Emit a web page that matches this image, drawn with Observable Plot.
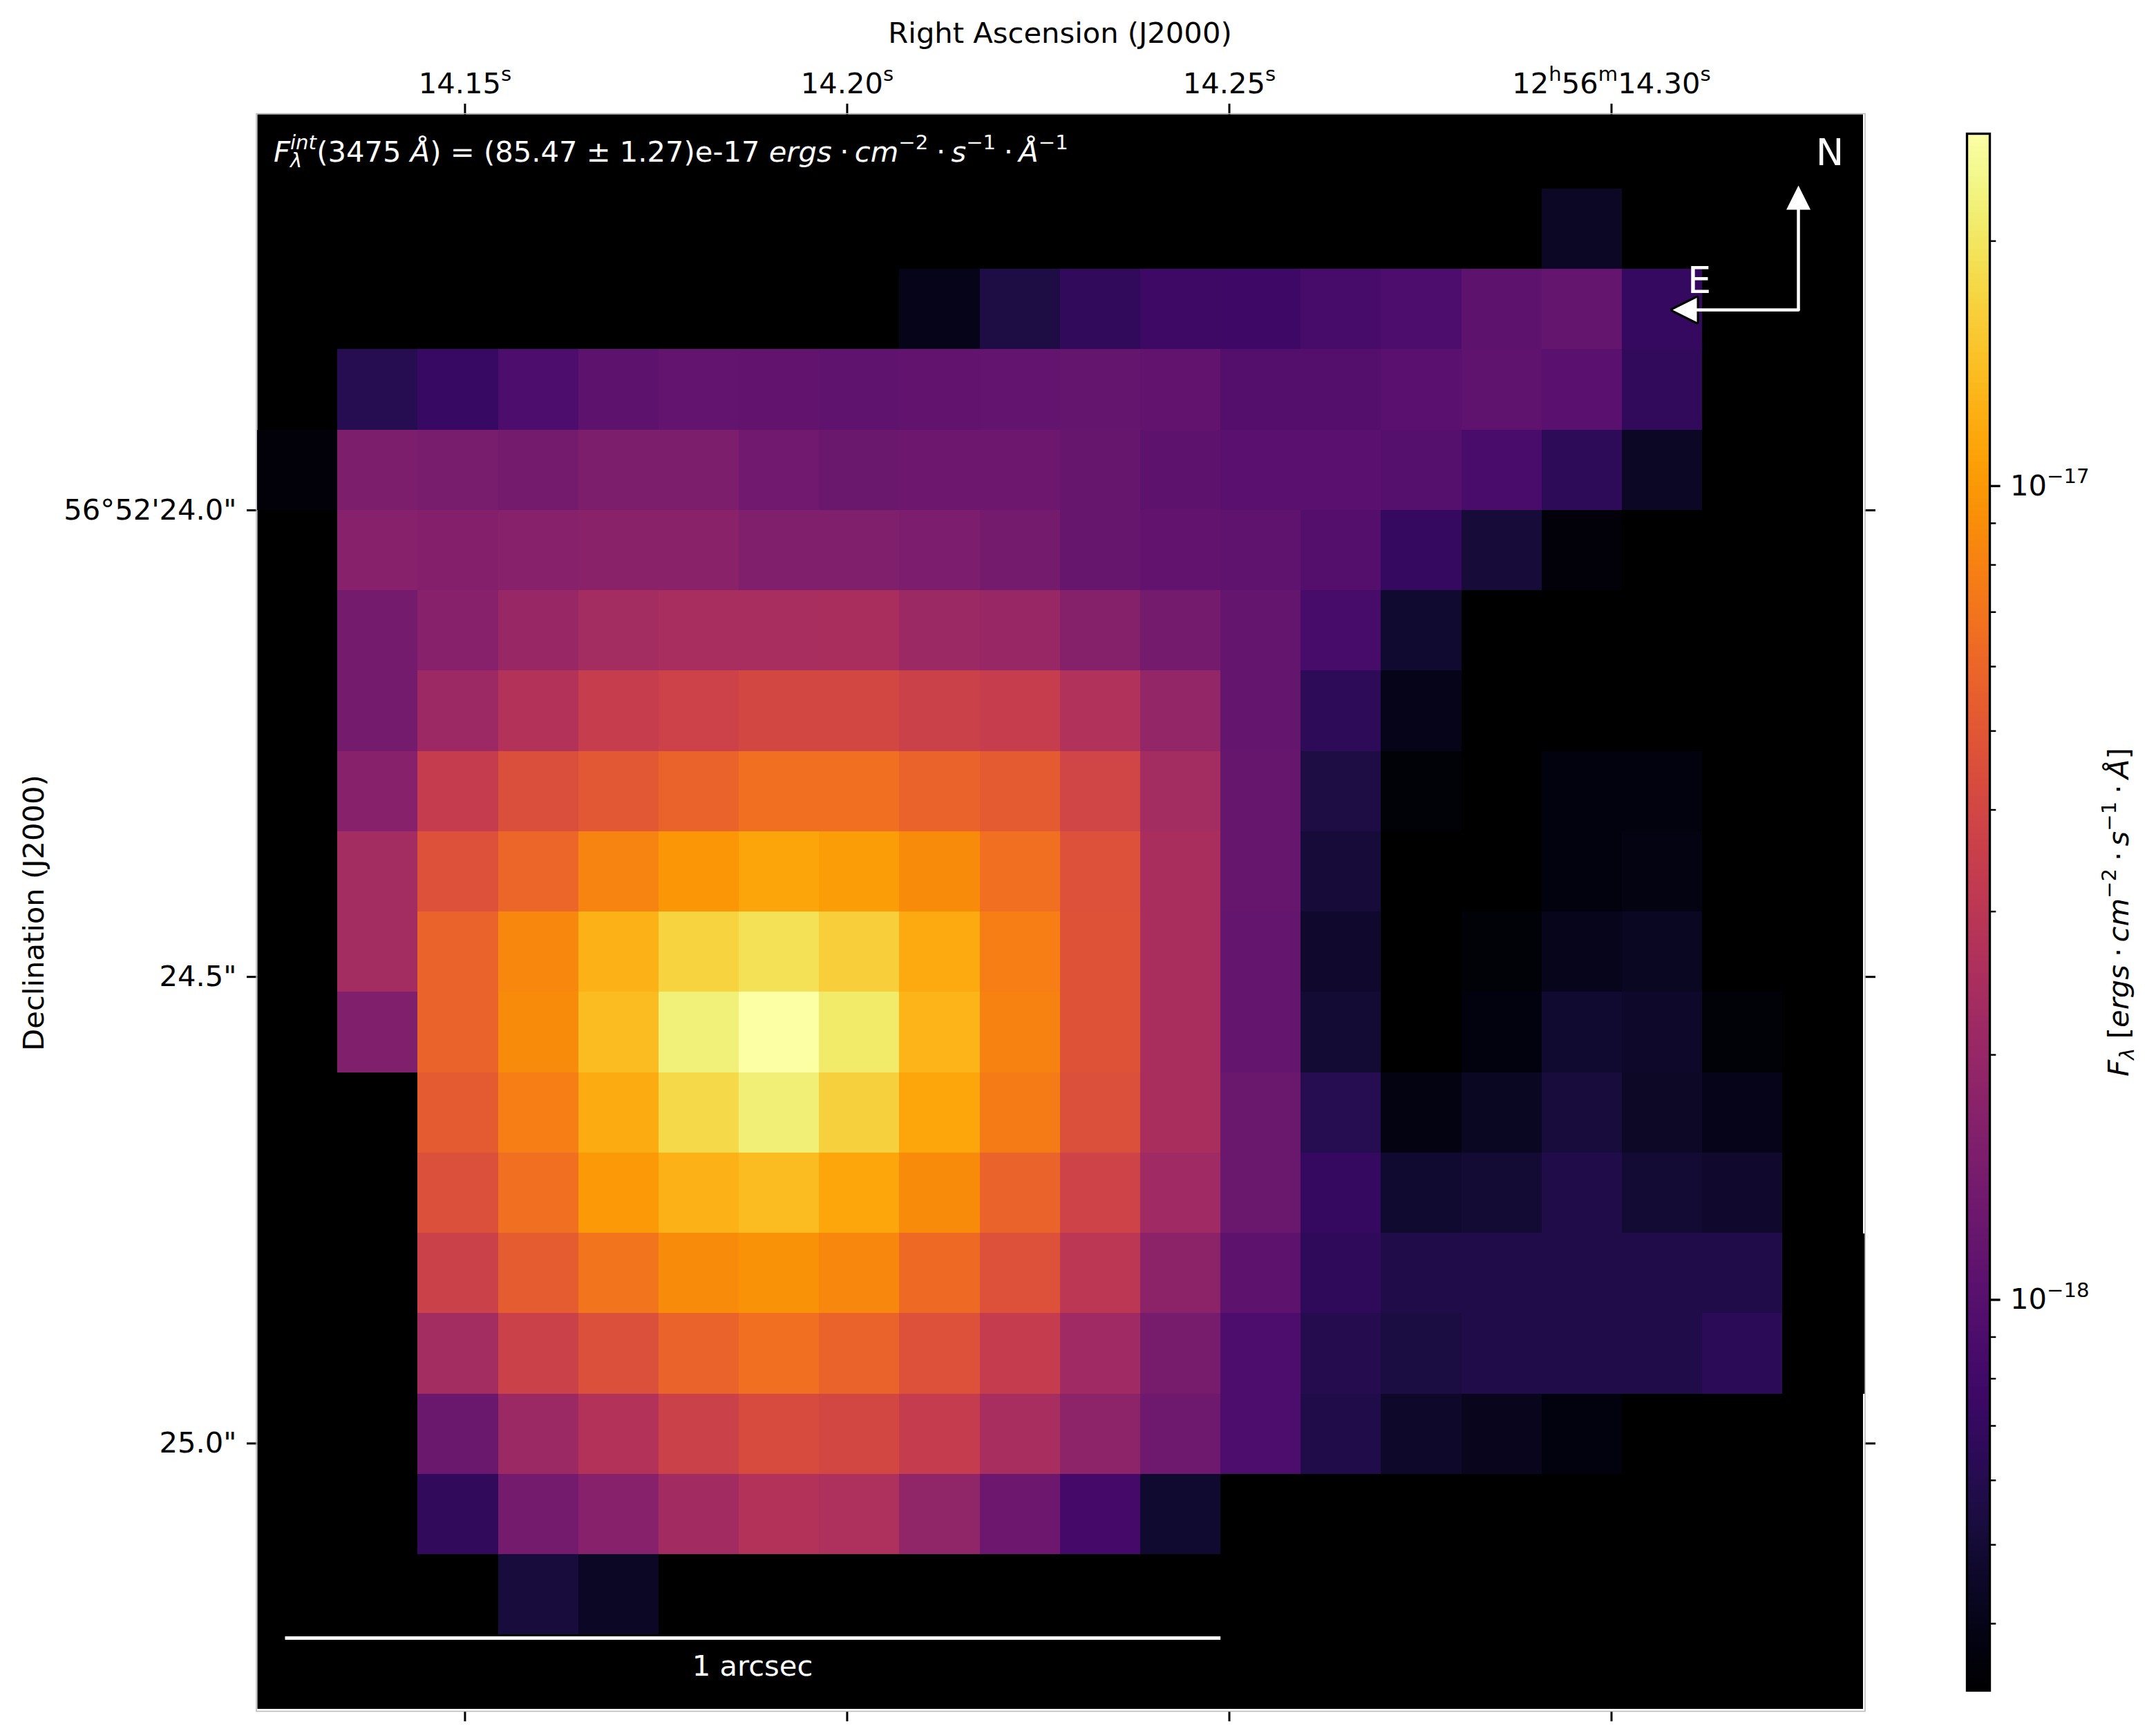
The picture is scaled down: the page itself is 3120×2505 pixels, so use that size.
<!DOCTYPE html>
<html>
<head>
<meta charset="utf-8">
<script src="https://cdn.jsdelivr.net/npm/d3@7"></script>
<script src="https://cdn.jsdelivr.net/npm/@observablehq/plot@0.6"></script>
<style>
html,body{margin:0;padding:0;background:#fff;}
#fig{position:relative;width:3120px;height:2505px;overflow:hidden;}
#fig svg{position:absolute;top:0;display:block;}
</style>
</head>
<body>
<div id="fig"></div>
<script>
// Flux per spaxel in units of 1e-18 erg/cm2/s/A. Null = masked.
const _ = null;
const row00 = [_,_,_,_,_,_,_,_,_,_,_,_,_,_,_,_,_,_,_,_];
const row01 = [_,_,_,_,_,_,_,_,_,_,_,_,_,_,_,_,.44,_,_,_];
const row02 = [_,_,_,_,_,_,_,_,.40,.56,.68,.76,.78,.85,.91,1.08,1.15,.71,_,_];
const row03 = [_,.61,.73,.91,1.08,1.14,1.12,1.10,1.12,1.14,1.16,1.12,.97,.97,1.03,1.10,1.03,.68,_,_];
const row04 = [.36,1.52,1.45,1.39,1.52,1.52,1.33,1.24,1.27,1.27,1.19,1.08,1.03,1.03,.99,.87,.65,.44,_,_];
const row05 = [_,1.69,1.62,1.69,1.73,1.73,1.58,1.58,1.48,1.39,1.19,1.12,1.10,.97,.71,.51,.36,_,_,_];
const row06 = [_,1.39,1.69,2.02,2.30,2.40,2.40,2.45,2.11,2.02,1.65,1.39,1.16,.85,.48,_,_,_,_,_];
const row07 = [_,1.39,2.15,2.74,3.42,3.73,4.08,4.08,3.65,3.42,2.68,1.93,1.15,.65,.40,_,_,_,_,_];
const row08 = [_,1.69,3.35,4.45,5.08,5.80,6.62,6.62,5.80,5.20,3.90,2.30,1.20,.56,.35,_,.37,.37,_,_];
const row09 = [_,2.30,4.65,6.06,8.25,9.84,11.2,10.5,8.80,6.62,4.65,2.45,1.20,.51,_,_,.37,.38,_,_];
const row10 = [_,2.30,5.80,8.43,12.5,17.0,19.0,16.3,11.7,7.72,4.75,2.45,1.15,.47,_,.35,.41,.43,_,_];
const row11 = [_,1.58,5.80,8.81,13.7,22.2,27.0,20.8,12.8,8.07,4.75,2.45,1.15,.50,_,.37,.48,.46,.35,_];
const row12 = [_,_,5.20,7.72,11.95,17.8,21.7,16.7,11.45,7.55,4.55,2.45,1.24,.61,.38,.43,.52,.45,.40,_];
const row13 = [_,_,4.55,6.62,10.0,12.5,13.7,11.45,8.81,5.80,3.81,2.20,1.24,.71,.48,.50,.57,.50,.47,_];
const row14 = [_,_,3.65,5.31,7.07,8.81,9.41,8.43,6.33,4.65,3.00,1.77,1.08,.66,.57,.57,.57,.57,.57,_];
const row15 = [_,_,2.30,3.65,4.55,5.80,6.62,5.80,4.65,3.35,2.20,1.42,.91,.60,.545,.57,.57,.58,.64,_];
const row16 = [_,_,1.24,2.11,2.74,3.65,4.26,4.08,3.35,2.40,1.81,1.30,.91,.57,.46,.42,.37,_,_,_];
const row17 = [_,_,.68,1.39,1.69,2.25,2.74,2.57,1.85,1.27,.83,.48,_,_,_,_,_,_,_,_];
const row18 = [_,_,_,.52,.44,_,_,_,_,_,_,_,_,_,_,_,_,_,_,_];
const row19 = [_,_,_,_,_,_,_,_,_,_,_,_,_,_,_,_,_,_,_,_];
const fluxRows = [row00,row01,row02,row03,row04,row05,row06,row07,row08,row09,row10,row11,row12,row13,row14,row15,row16,row17,row18,row19];

// Colour limits (1e-18 units) and ticks
const fluxMin = 0.331, fluxMax = 27.1;
const barMajor = [1, 10];
const barMajorLabels = new Map([[1,"10{−18}"],[10,"10{−17}"]]);
const barMinor = [.4,.5,.6,.7,.8,.9,2,3,4,5,6,7,8,9,20];

// Sky axes
const raTicks = [14.15, 14.20, 14.25, 14.30];
const raLabels = new Map([[14.15,"14.15{s}"],[14.20,"14.20{s}"],[14.25,"14.25{s}"],[14.30,"12{h}56{m}14.30{s}"]]);
const decTicks = [24.0, 24.5, 25.0];
const decLabels = new Map([[24.0,"56°52'24.0\""],[24.5,"24.5\""],[25.0,"25.0\""]]);
const raLimits = [14.12284, 14.33295];
const decLimits = [25.28481, 23.57568];
const ra0 = 14.12284, dRA = 0.010503, dec0 = 23.56954, dDec = 0.086086;

const FONT = "DejaVu Sans", FS = 41.67;
const colorScale = {type:"log", domain:[fluxMin, fluxMax], scheme:"inferno", clamp:true};

const cells = fluxRows.flatMap((r,row)=>r.map((flux,col)=>({row,col,flux}))).filter(d=>d.flux!=null);

// Annotation positions expressed in sky coordinates
const raOf = p => 14.15 + (p-672)/11063;
const decOf = p => 24 + (p-738)/1350.4;

const main = Plot.plot({
  width:3120, height:2505,
  marginLeft:372, marginRight:424, marginTop:165, marginBottom:32,
  x:{domain:raLimits}, y:{domain:decLimits}, color:colorScale,
  style:{fontFamily:FONT, background:"transparent", color:"#000"},
  marks:[
    Plot.frame({fill:"#000", stroke:null}),
    Plot.rect(cells,{
      x1:d=>ra0+d.col*dRA, x2:d=>ra0+(d.col+1)*dRA,
      y1:d=>dec0+d.row*dDec, y2:d=>dec0+(d.row+1)*dDec,
      fill:"flux", shapeRendering:"crispEdges", clip:true
    }),
    Plot.axisX({anchor:"top", ticks:raTicks, label:null, tickSize:16, tickPadding:15, strokeWidth:3, fontSize:FS, tickFormat:d=>raLabels.get(d)}),
    Plot.axisX({anchor:"bottom", ticks:raTicks, label:null, tickSize:18, strokeWidth:3, tickFormat:()=>""}),
    Plot.axisY({anchor:"left", ticks:decTicks, label:null, tickSize:15, tickPadding:15, strokeWidth:3, fontSize:FS, tickFormat:d=>decLabels.get(d)}),
    Plot.axisY({anchor:"right", ticks:decTicks, label:null, tickSize:17, strokeWidth:3, tickFormat:()=>""}),
    // 1 arcsec bar
    Plot.ruleY([decOf(2370)],{x1:raOf(412), x2:raOf(1766), stroke:"#fff", strokeWidth:5}),
    // North arrow
    Plot.line([[raOf(2602),decOf(447)],[raOf(2602),decOf(303)]],{x:"0",y:"1",stroke:"#fff",strokeWidth:4.5}),
    Plot.line([[raOf(2602),decOf(268)],[raOf(2619.5),decOf(303)],[raOf(2584.5),decOf(303)],[raOf(2602),decOf(268)]],{x:"0",y:"1",fill:"#fff",stroke:"#000",strokeWidth:0}),
    // East arrow
    Plot.line([[raOf(2420),decOf(448)],[raOf(2455),decOf(430.5)],[raOf(2455),decOf(465.5)],[raOf(2420),decOf(448)]],{x:"0",y:"1",fill:"#fff",stroke:"#000",strokeWidth:6.6,paintOrder:"stroke"}),
    Plot.line([[raOf(2602),decOf(448)],[raOf(2452),decOf(448)]],{x:"0",y:"1",stroke:"#fff",strokeWidth:4.5})
  ]
});

const levels = d3.range(256).map(i=>({
  lo:fluxMin*Math.pow(fluxMax/fluxMin,i/256),
  hi:fluxMin*Math.pow(fluxMax/fluxMin,(i+1)/256),
  mid:fluxMin*Math.pow(fluxMax/fluxMin,(i+.5)/256)
}));
const bar = Plot.plot({
  width:340, height:2505,
  marginLeft:66, marginRight:241, marginTop:193, marginBottom:59,
  x:{axis:null}, y:{type:"log", domain:[fluxMin,fluxMax]}, color:colorScale,
  style:{fontFamily:FONT, background:"transparent", color:"#000"},
  marks:[
    Plot.rect(levels,{y1:"lo", y2:"hi", fill:"mid", shapeRendering:"crispEdges"}),
    Plot.frame({stroke:"#000", strokeWidth:3.33}),
    Plot.axisY({anchor:"right", ticks:barMinor, label:null, tickSize:8.3, strokeWidth:2.5, tickFormat:()=>""}),
    Plot.axisY({anchor:"right", ticks:barMajor, label:null, tickSize:14.6, tickPadding:15, strokeWidth:3.33, fontSize:FS, tickFormat:d=>barMajorLabels.get(d)})
  ]
});
main.style.left="0px"; bar.style.left="2780px";
const fig=document.getElementById("fig");
fig.appendChild(main); fig.appendChild(bar);

// Turn "12{h}56{m}" tick labels into real superscripts
function supers(svg){
  d3.select(svg).selectAll("text").each(function(){
    const s=this.textContent; if(!s.includes("{")) return;
    const el=d3.select(this); el.text("");
    let up=false, fs=+FS*.7;
    s.split(/[{}]/).forEach((p,i)=>{
      if(!p) return;
      const t=el.append("tspan").text(p);
      if(i%2){ t.attr("font-size",fs).attr("dy",-FS*.42); up=true; }
      else if(up){ t.attr("dy",FS*.42); up=false; }
    });
  });
}
supers(main); supers(bar);

// Rich text annotation
const SHIFT={sup:-.42,sub:.2};
function rich(svg,x,y,parts,o={}){
  const size=o.size||FS;
  const t=d3.select(svg).append("text").attr("x",x).attr("y",y)
    .attr("font-family",FONT).attr("font-size",size).attr("fill",o.fill||"#000")
    .attr("text-anchor",o.anchor||"start").style("white-space","pre");
  if(o.rotate) t.attr("transform",`rotate(${o.rotate} ${x} ${y})`);
  let cur=0;
  parts.forEach(([s,st="",dx=0])=>{
    const span=t.append("tspan").text(s);
    const kind=st.includes("sup")?"sup":st.includes("sub")?"sub":null;
    const sh=kind?SHIFT[kind]*size:0;
    if(st.includes("i")&&st!=="sub"&&st!=="sup") span.attr("font-style","italic");
    if(kind) span.attr("font-size",size*.7);
    const dy=sh-cur; if(dy) span.attr("dy",dy); cur=sh;
    if(dx) span.attr("dx",dx);
  });
  return t;
}
const W="#fff", DOT="\u2009·\u2009";
rich(main,396,234,[
  ["F","i"],["int","isup"],["λ","isub",-38],["(3475 ","",21],["Å","i"],[") = (85.47 ± 1.27)e-17 "],
  ["ergs","i"],[DOT,"",3.3],["cm","i"],["−2","sup"],[DOT,"",3.3],["s","i"],["−1","sup"],[DOT,"",3.3],["Å","i"],["−1","sup"]
],{fill:W});
rich(main,2648,239,[["N"]],{fill:W,size:54.17,anchor:"middle"});
rich(main,2459,424,[["E"]],{fill:W,size:54.17,anchor:"middle"});
rich(main,1089,2425,[["1 arcsec"]],{fill:W,anchor:"middle"});
rich(main,1534,62,[["Right Ascension (J2000)"]],{anchor:"middle"});
rich(main,63,1321,[["Declination (J2000)"]],{anchor:"middle",rotate:-90});
rich(bar,300,1320,[["F","i"],["λ","isub"],[" ["],["ergs","i"],[DOT,"",2.7],["cm","i"],["−2","sup"],[DOT,"",2.7],["s","i"],["−1","sup"],[DOT,"",2.7],["Å","i"],["]"]],{anchor:"middle",rotate:-90});

// Axes edge: thin grey outline with a white gap on the right and bottom
const m=d3.select(main);
const edge=(x,y,w,h,c)=>m.append("rect").attr("x",x).attr("y",y).attr("width",w).attr("height",h).attr("fill",c);
edge(2696,165,2.5,2310,"#fff");
edge(372,2473,2326,3,"#fff");
edge(2696,1785,3,232,"#000");
m.append("rect").attr("x",371).attr("y",164.5).attr("width",2328).attr("height",2312)
 .attr("fill","none").attr("stroke","#b8b8b8").attr("stroke-width",1.5);
</script>
</body>
</html>
